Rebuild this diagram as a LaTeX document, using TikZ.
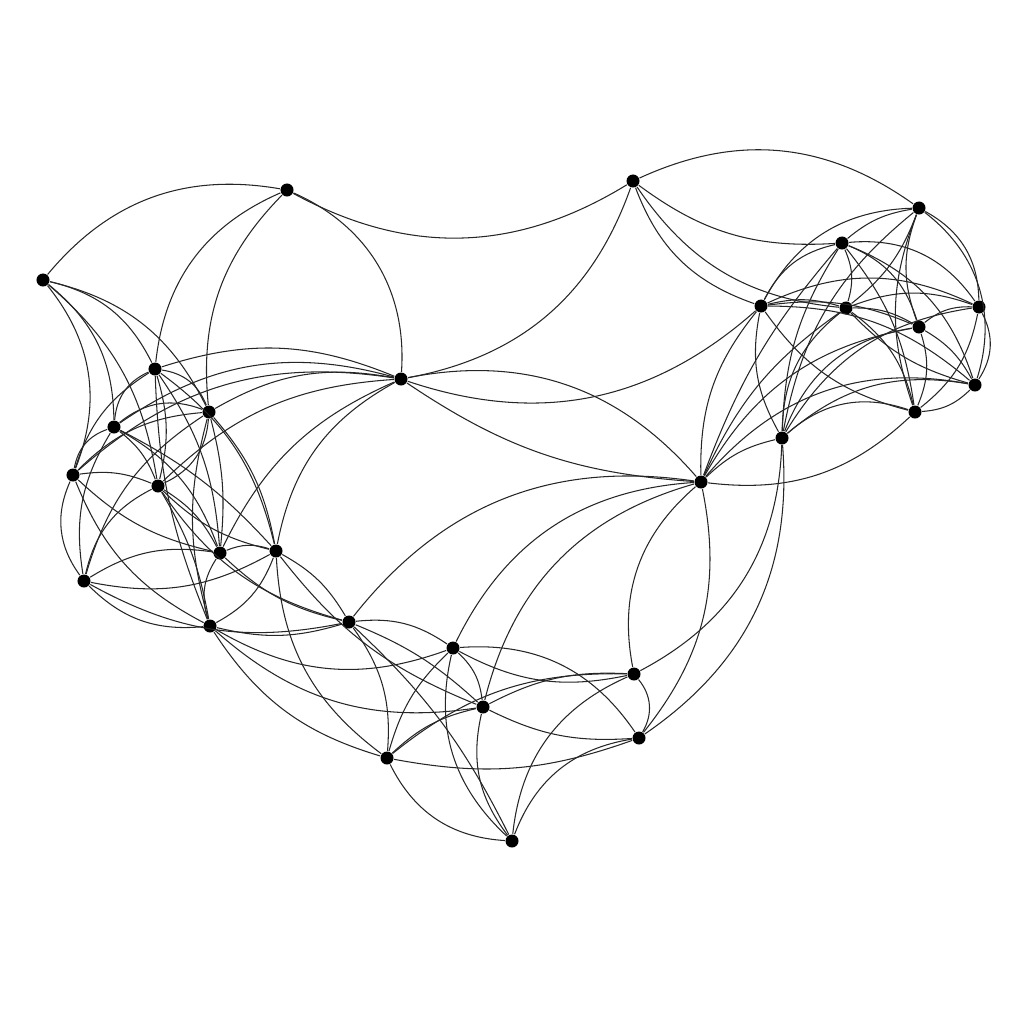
\documentclass[tikz,border=0pt]{standalone}
\begin{document}
\begin{tikzpicture}[x=0.01cm,y=-0.01cm,
                    auto,
                    vertex/.style={circle,fill=black,inner sep=0pt,minimum size=0.13cm},
                    lnk/.style={draw=black!85,line width=0.3pt}]
  \useasboundingbox (0,0) rectangle (1024,1024);

  % top and left part
  \node[vertex] (a) at (287,190) {};
  \node[vertex] (b) at (633,181) {};
  \node[vertex] (c) at (43,280) {};
  \node[vertex] (n) at (401,379) {};
  \node[vertex] (o) at (155,369) {};
  \node[vertex] (p) at (209,412) {};
  \node[vertex] (q) at (114,427) {};
  \node[vertex] (r) at (73,475) {};
  \node[vertex] (s) at (158,486) {};
  \node[vertex] (t) at (220,553) {};
  \node[vertex] (u) at (276,551) {};
  \node[vertex] (v) at (84,581) {};
  \node[vertex] (w) at (210,626) {};
  % bottom part
  \node[vertex] (x) at (349,622) {};
  \node[vertex] (y) at (453,648) {};
  \node[vertex] (z) at (483,707) {};
  \node[vertex] (A) at (634,674) {};
  \node[vertex] (B) at (639,738) {};
  \node[vertex] (C) at (387,758) {};
  \node[vertex] (D) at (512,841) {};
  % right part
  \node[vertex] (d) at (919,208) {};
  \node[vertex] (e) at (842,243) {};
  \node[vertex] (f) at (761,306) {};
  \node[vertex] (g) at (846,308) {};
  \node[vertex] (h) at (979,307) {};
  \node[vertex] (i) at (919,327) {};
  \node[vertex] (j) at (975,385) {};
  \node[vertex] (k) at (915,412) {};
  \node[vertex] (l) at (782,438) {};
  \node[vertex] (m) at (701,482) {};

  \path[lnk]
    (a) edge[bend right] (b)
        edge[bend left=35] (n)
        edge[bend right] (o)
        edge[bend right=25] (p)
    (b) edge[bend left] (d)
        edge[bend left] (n)
        edge[bend right=20] (e)
        edge[bend right=25] (f)
        edge[bend right=25] (g)
    (c) edge[bend left] (a)
        edge[bend left] (r)
        edge[bend left=25] (q)
        edge[bend left=25] (o)
        edge[bend left=20] (s)
        edge[bend left=25] (p)
    (n) edge[bend right] (f)
        edge[bend right=15] (m)
        edge[bend left] (m)
    (m) edge[bend left=25] (B);

  \path[lnk]
    (o) edge[bend left=20] (n)
        edge[bend left] (p)
        edge[bend right] (q)
        edge[bend right=20] (r)
        edge[bend left=15] (s)
        edge[bend left=15] (t)
        edge[bend left=20] (u)
        edge[bend right=10] (w)
    (p) edge[bend left=20] (n)
        edge[bend right] (q)
        edge[bend right=20] (r)
        edge[bend left] (s)
        edge[bend left=10] (t)
        edge[bend left=15] (u)
        edge[bend right=15] (w)
        edge[bend right=20] (v)
    (q) edge[bend left=25] (n)
        edge[bend right] (r)
        edge[bend left=15] (s)
        edge[bend left=20] (t)
        edge[bend right=20] (v)
        edge[bend left=10] (u)
    (r) edge[bend left=25] (n)
        edge[bend left=15] (s)
        edge[bend right] (v)
        edge[bend right=15] (t)
        edge[bend right=20] (w)
    (s) edge[bend left=20] (n)
        edge[bend left=15] (t)
        edge[bend right=15] (u)
        edge[bend right=25] (v)
        edge[bend left=10] (w)
        edge[bend right=20] (x)
    (t) edge[bend left=20] (u)
        edge[bend right=25] (w)
        edge[bend right=20] (v)
        edge[bend right=15] (x)
        edge[bend left=20] (n)
    (u) edge[bend left=25] (n)
        edge[bend left=20] (w)
        edge[bend left=15] (x)
        edge[bend right=25] (C)
        edge[bend right=15] (z)
        edge[bend left=20] (v)
    (v) edge[bend right=25] (w)
        edge[bend right=20] (x)
    (w) edge[bend right=15] (x)
        edge[bend right=25] (y)
        edge[bend right=25] (z)
        edge[bend right=20] (C);

  \path[lnk]
    (x) edge[bend left=20] (y)
        edge[bend left=10] (z)
        edge[bend left=20] (C)
        edge[bend left=10] (D)
    (y) edge[bend left=20] (z)
        edge[bend right=20] (A)
        edge[bend left] (B)
        edge[bend right] (D)
        edge[bend right=15] (C)
    (z) edge[bend left=15] (A)
        edge[bend right=15] (B)
        edge[bend right=25] (D)
        edge[bend right=15] (C)
    (C) edge[bend right] (D)
        edge[bend right=15] (B)
        edge[bend left=20] (A)
    (A) edge[bend left=35] (B)
        edge[bend right] (l)
    (D) edge[bend left] (A)
        edge[bend left] (B)
    (l) edge[bend left] (B)
    (m) edge[bend right] (A)
        edge[bend right] (x)
        edge[bend right] (y)
        edge[bend right] (z);

  \path[lnk]
    (m) edge[bend left=15] (l)
        edge[bend left=20] (f)
        edge[bend left=15] (g)
        edge[bend left=10] (e)
        edge[bend left=25] (i)
        edge[bend left] (j)
        edge[bend right=25] (k)
    (d) edge[bend right=15] (e)
        edge[bend right] (f)
        edge[bend left=15] (g)
        edge[bend left] (h)
        edge[bend right=20] (i)
        edge[bend left=35] (j)
        edge[bend right=20] (k)
        edge[bend right=20] (l)
    (e) edge[bend right=25] (f)
        edge[bend left=20] (g)
        edge[bend left] (h)
        edge[bend left=25] (i)
        edge[bend left=15] (k)
        edge[bend right=15] (l)
        edge[bend left=25] (j)
    (f) edge[bend left=15] (g)
        edge[bend left=25] (h)
        edge[bend left=15] (i)
        edge[bend right=20] (k)
        edge[bend right=20] (l)
        edge[bend left=20] (j)
    (g) edge[bend left=20] (h)
        edge[bend left=15] (i)
        edge[bend left=20] (k)
        edge[bend right=25] (l)
        edge[bend right=15] (j)
    (h) edge[bend right=20] (i)
        edge[bend left] (j)
        edge[bend left=20] (k)
        edge[bend right=25] (l)
    (i) edge[bend left=15] (j)
        edge[bend left=20] (k)
        edge[bend right] (l)
    (j) edge[bend left=20] (k)
        edge[bend right=25] (l)
    (k) edge[bend right] (l);
\end{tikzpicture}
\end{document}
